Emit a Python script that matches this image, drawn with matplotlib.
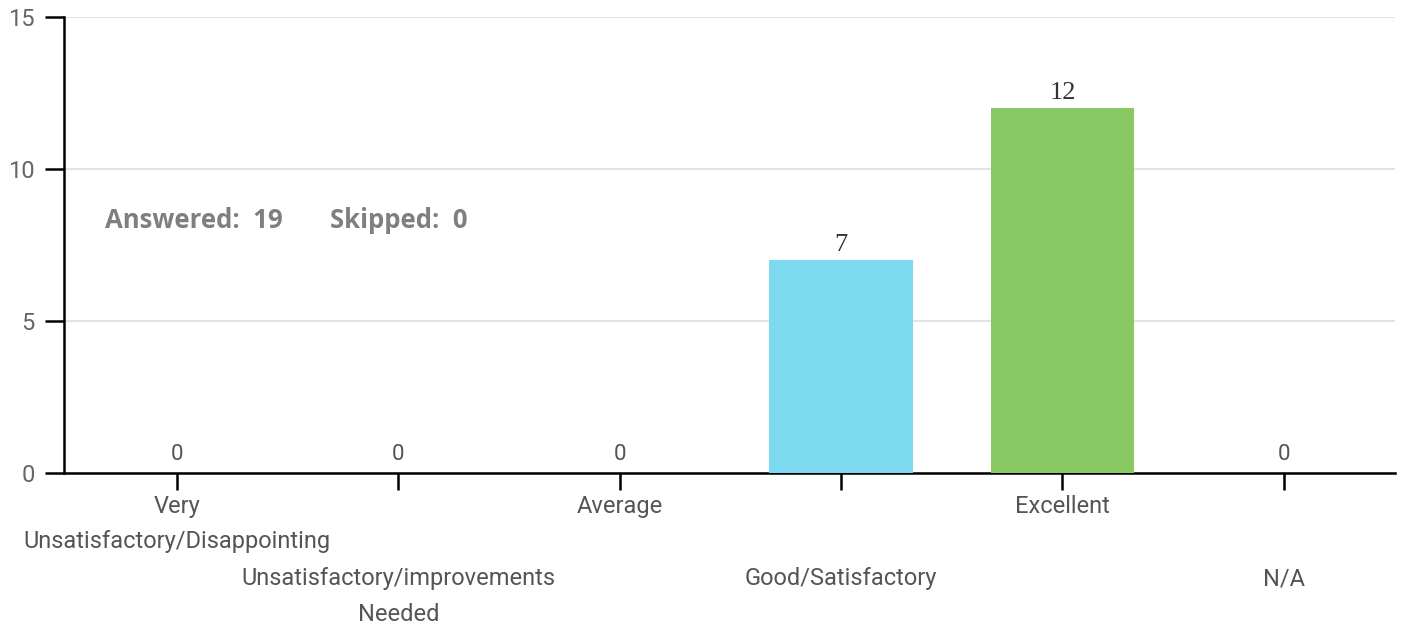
import matplotlib
matplotlib.use("Agg")
import matplotlib.pyplot as plt

categories = [
    "Very\nUnsatisfactory/Disappointing",
    "Unsatisfactory/improvements\nNeeded",
    "Average",
    "Good/Satisfactory",
    "Excellent",
    "N/A",
]
counts = [0, 0, 0, 7, 12, 0]
bar_colors = ["#7dd9ef", "#7dd9ef", "#7dd9ef", "#7dd9ef", "#89c963", "#7dd9ef"]
y_ticks = [0, 5, 10, 15]
answered = 19
skipped = 0

fig = plt.figure(figsize=(14.03, 6.29), dpi=100)
ax = fig.add_axes([0.0456, 0.248, 0.9484, 0.725])

x = list(range(len(categories)))
ax.bar(x, counts, width=0.65, color=bar_colors, zorder=3)

# value labels: nonzero ones are drawn in a serif face, zeros in sans
for xi, v in zip(x, counts):
    if v == 0:
        ax.annotate(str(v), (xi, v), xytext=(0, 6), textcoords="offset points",
                    ha="center", va="bottom", fontsize=16, color="#555555",
                    family="Roboto")
    else:
        ax.annotate(str(v), (xi, v), xytext=(0, 3), textcoords="offset points",
                    ha="center", va="bottom", fontsize=19, color="#333333",
                    family="Liberation Serif")

ax.set_xlim(-0.51, 5.5)
ax.set_ylim(0, 15)
ax.set_yticks(y_ticks)
ax.set_xticks(x)
ax.set_xticklabels([])

# alternating tick labels: even ones high, odd ones low
for xi, lab in zip(x, categories):
    y_off = -16 if xi % 2 == 0 else -68
    ax.annotate(lab, (xi, 0), xycoords=("data", "axes fraction"),
                xytext=(0, y_off), textcoords="offset points",
                ha="center", va="top", fontsize=17, color="#555555",
                family="Roboto", linespacing=1.68)

ax.grid(axis="y", color="#e3e3e3", linewidth=1.5, zorder=0)
ax.set_axisbelow(True)
for s in ["top", "right"]:
    ax.spines[s].set_visible(False)
ax.spines["left"].set_linewidth(1.8)
ax.spines["bottom"].set_linewidth(1.8)
ax.tick_params(axis="y", length=14, width=1.8, labelsize=17, labelcolor="#666666",
               pad=7)
ax.tick_params(axis="x", length=12, width=1.8)
for lab in ax.get_yticklabels():
    lab.set_family("Roboto")

fig.text(105 / 1403, 1 - 220 / 629, f"Answered:  {answered}", ha="left",
         va="center", fontsize=18.5, fontweight="bold", color="#7f7f7f",
         family="Open Sans")
fig.text(330 / 1403, 1 - 220 / 629, f"Skipped:  {skipped}", ha="left",
         va="center", fontsize=18.5, fontweight="bold", color="#7f7f7f",
         family="Open Sans")

fig.savefig("out.png", dpi=100)
